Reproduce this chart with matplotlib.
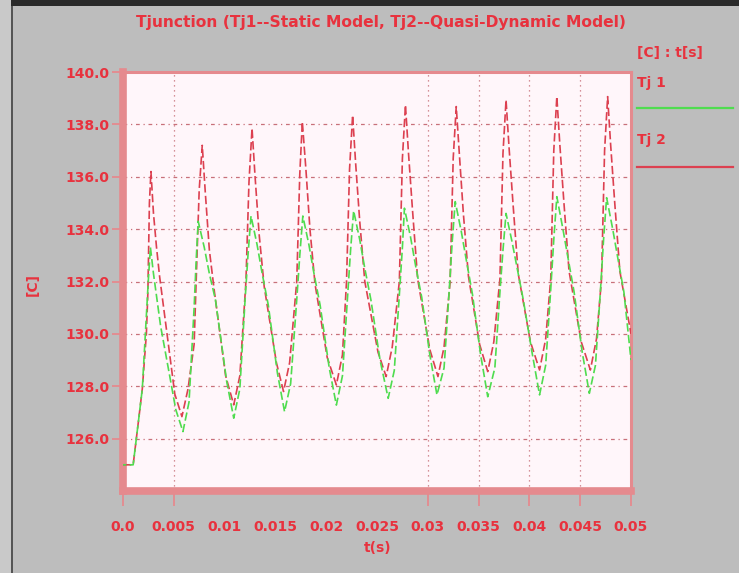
import matplotlib
matplotlib.use('Agg')
import matplotlib.pyplot as plt
from matplotlib.patches import Rectangle
from matplotlib.lines import Line2D

# Tj1 (static model, green) - time [s] and temperature [C]
t_tj1 = [0.0, 0.0010, 0.0015, 0.0019, 0.0022, 0.0025, 0.0027, 0.0030, 0.0037, 0.0045, 0.0052, 0.0059,
         0.0065, 0.0070, 0.0072, 0.0074, 0.0080, 0.0085, 0.0091, 0.0102, 0.0109,
         0.0115, 0.0120, 0.0123, 0.0126, 0.0132, 0.0137, 0.0143, 0.0152, 0.0159,
         0.0165, 0.0171, 0.0174, 0.0177, 0.0183, 0.0188, 0.0194, 0.0203, 0.0210,
         0.0216, 0.0221, 0.0224, 0.0227, 0.0233, 0.0238, 0.0244, 0.0253, 0.0261,
         0.0267, 0.0272, 0.0275, 0.0277, 0.0283, 0.0288, 0.0294, 0.0302, 0.0309,
         0.0316, 0.0321, 0.0324, 0.0327, 0.0333, 0.0338, 0.0344, 0.0352, 0.0359,
         0.0366, 0.0371, 0.0374, 0.0377, 0.0383, 0.0388, 0.0394, 0.0403, 0.0410,
         0.0416, 0.0421, 0.0424, 0.0427, 0.0433, 0.0438, 0.0444, 0.0452, 0.0459,
         0.0465, 0.0470, 0.0473, 0.0476, 0.0482, 0.0487, 0.0493, 0.0500]
tj1 = [125.0, 125.0, 126.6, 127.9, 130.0, 132.1, 133.3, 132.3, 130.3, 128.6, 127.1, 126.27,
       127.4, 131.0, 132.8, 134.3, 133.3, 132.3, 131.3, 128.2, 126.78,
       127.9, 131.2, 133.0, 134.5, 133.4, 132.3, 131.1, 128.5, 127.03,
       128.1, 131.3, 133.0, 134.5, 133.4, 132.3, 131.1, 128.7, 127.28,
       128.4, 131.4, 133.2, 134.7, 133.6, 132.5, 131.3, 129.0, 127.54,
       128.6, 131.5, 133.3, 134.8, 133.7, 132.6, 131.4, 129.2, 127.67,
       128.7, 131.6, 133.5, 135.05, 133.9, 132.8, 131.5, 129.2, 127.6,
       128.7, 131.6, 133.2, 134.6, 133.5, 132.5, 131.3, 129.2, 127.67,
       128.8, 131.7, 133.6, 135.24, 134.0, 132.9, 131.6, 129.3, 127.73,
       128.8, 131.7, 133.6, 135.2, 134.0, 132.9, 131.6, 129.0]

# Tj2 (quasi-dynamic model, red)
t_tj2 = [0.0, 0.0010, 0.0015, 0.0019, 0.0023, 0.00245, 0.0026, 0.00275, 0.0030, 0.0033, 0.0036, 0.0045, 0.0051, 0.0058,
         0.0064, 0.0070, 0.0072, 0.0075, 0.0078, 0.0081, 0.0085, 0.0090, 0.0101, 0.0109,
         0.0115, 0.0121, 0.0124, 0.0127, 0.0130, 0.0134, 0.0139, 0.0151, 0.0158,
         0.0164, 0.0171, 0.0174, 0.01765, 0.0180, 0.0184, 0.0189, 0.0201, 0.0210,
         0.0216, 0.0220, 0.0223, 0.0226, 0.0229, 0.0233, 0.0238, 0.0251, 0.0259,
         0.0265, 0.0272, 0.0275, 0.0278, 0.0281, 0.0285, 0.0290, 0.0302, 0.0310,
         0.0316, 0.0322, 0.0325, 0.0328, 0.0331, 0.0335, 0.0340, 0.0351, 0.0359,
         0.0365, 0.0371, 0.0374, 0.0377, 0.0380, 0.0384, 0.0389, 0.0401, 0.0410,
         0.0416, 0.0421, 0.0424, 0.0427, 0.0430, 0.0434, 0.0439, 0.0451, 0.0460,
         0.0466, 0.0471, 0.0474, 0.0477, 0.0480, 0.0484, 0.0489, 0.0500]
tj2 = [125.0, 125.0, 126.6, 127.9, 130.0, 131.6, 135.0, 136.2, 134.6, 133.3, 132.2, 129.5, 127.7, 126.84,
       127.9, 129.6, 132.0, 135.5, 137.2, 135.4, 133.2, 131.6, 128.4, 127.29,
       128.4, 132.0, 135.8, 137.85, 136.0, 133.8, 131.8, 128.9, 127.8,
       128.9, 132.0, 136.1, 138.1, 136.3, 134.0, 131.9, 129.1, 128.05,
       129.2, 132.0, 136.3, 138.35, 136.5, 134.3, 132.0, 129.3, 128.37,
       129.5, 132.0, 136.7, 138.74, 136.9, 134.7, 132.1, 129.4, 128.37,
       129.5, 132.0, 136.7, 138.68, 136.9, 134.6, 132.2, 129.6, 128.56,
       129.7, 132.1, 136.9, 138.93, 137.1, 134.9, 132.3, 129.7, 128.62,
       129.8, 132.1, 137.0, 139.06, 137.2, 135.0, 132.4, 129.7, 128.62,
       129.8, 132.1, 137.0, 139.06, 137.2, 135.0, 132.4, 130.0]

x_ticks = [0.0, 0.005, 0.01, 0.015, 0.02, 0.025, 0.03, 0.035, 0.04, 0.045, 0.05]
x_labels = ['0.0', '0.005', '0.01', '0.015', '0.02', '0.025', '0.03', '0.035', '0.04', '0.045', '0.05']
x_marks = [0.0, 0.005, 0.03, 0.035, 0.04, 0.045, 0.05]
x_grid = [0.005, 0.03, 0.035, 0.04, 0.045]
y_ticks = [126.0, 128.0, 130.0, 132.0, 134.0, 136.0, 138.0, 140.0]
y_grid = [126.0, 128.0, 130.0, 132.0, 134.0, 136.0, 138.0]

RED = '#e8323e'
GREEN = '#4fdc4f'
LINE_RED = '#dc4050'
FRAME = '#e58a8e'
GRID = '#c8707a'

W, H = 739, 573
fig = plt.figure(figsize=(W / 100, H / 100), dpi=100, facecolor='#bdbdbd')


def px(x, y):
    # pixel coords (top-left origin) -> figure fraction
    return x / W, 1 - y / H


# outer frame bits
fig.add_artist(Rectangle((0, 0), 10.5 / W, 1, transform=fig.transFigure,
                         facecolor='#c9c9c9', edgecolor='none'))
fig.add_artist(Rectangle((10.5 / W, 0), 2.5 / W, 1, transform=fig.transFigure,
                         facecolor='#555555', edgecolor='none'))
fig.add_artist(Rectangle((10.5 / W, 1 - 6 / H), 1, 6 / H, transform=fig.transFigure,
                         facecolor='#2a2a2a', edgecolor='none'))

left, top, right, bottom = 123, 72, 631, 491
ax = fig.add_axes([left / W, 1 - bottom / H, (right - left) / W, (bottom - top) / H])
ax.set_facecolor('#fff6fa')

for y in y_grid:
    ax.axhline(y, color=GRID, lw=0.9, ls=(0, (3, 3, 1, 3)), zorder=1)
for x in x_grid:
    ax.axvline(x, color=GRID, lw=0.9, ls=(0, (1, 3)), zorder=1)

ax.plot(t_tj2, tj2, color=LINE_RED, lw=1.2, ls=(0, (5, 2)), zorder=3)
ax.plot(t_tj1, tj1, color=GREEN, lw=1.2, ls=(3, (5, 2)), zorder=3)

ax.set_xlim(0, 0.05)
ax.set_ylim(124, 140)

ax.xaxis.remove_overlapping_locs = False
ax.set_xticks(x_ticks)
ax.set_xticklabels(x_labels)
ax.set_xticks(x_marks, minor=True)
ax.tick_params(axis='x', which='major', length=0, pad=21, labelsize=10, labelcolor=RED)
ax.tick_params(axis='x', which='minor', length=11, width=1.3, color=FRAME)
ax.set_yticks(y_ticks)
ax.set_yticklabels(['%.1f' % v for v in y_ticks])
ax.tick_params(axis='y', length=8, width=1.3, color=FRAME, pad=1.5, labelsize=10, labelcolor=RED)
for lab in ax.get_xticklabels() + ax.get_yticklabels():
    lab.set_fontweight('bold')

for side in ['left', 'bottom']:
    ax.spines[side].set_linewidth(5.5)
    ax.spines[side].set_color(FRAME)
for side in ['top', 'right']:
    ax.spines[side].set_linewidth(2.2)
    ax.spines[side].set_color(FRAME)

# texts
fig.text(*px(381, 22), 'Tjunction (Tj1--Static Model, Tj2--Quasi-Dynamic Model)',
         color=RED, fontsize=11.2, fontweight='bold', ha='center', va='center')
fig.text(*px(33, 285), '[C]', color=RED, fontsize=10, fontweight='bold',
         rotation=90, ha='center', va='center')
fig.text(*px(378, 548), 't(s)', color=RED, fontsize=10, fontweight='bold',
         ha='center', va='center')
fig.text(*px(637, 53), '[C] : t[s]', color=RED, fontsize=10, fontweight='bold',
         ha='left', va='center')
fig.text(*px(637, 83), 'Tj 1', color=RED, fontsize=10, fontweight='bold',
         ha='left', va='center')
fig.text(*px(637, 140), 'Tj 2', color=RED, fontsize=10, fontweight='bold',
         ha='left', va='center')
fig.add_artist(Line2D([637 / W, 733 / W], [1 - 108 / H, 1 - 108 / H],
                      transform=fig.transFigure, color=GREEN, lw=1.6))
fig.add_artist(Line2D([637 / W, 733 / W], [1 - 167 / H, 1 - 167 / H],
                      transform=fig.transFigure, color=LINE_RED, lw=1.6))

fig.savefig('out.png', dpi=100, facecolor=fig.get_facecolor())
